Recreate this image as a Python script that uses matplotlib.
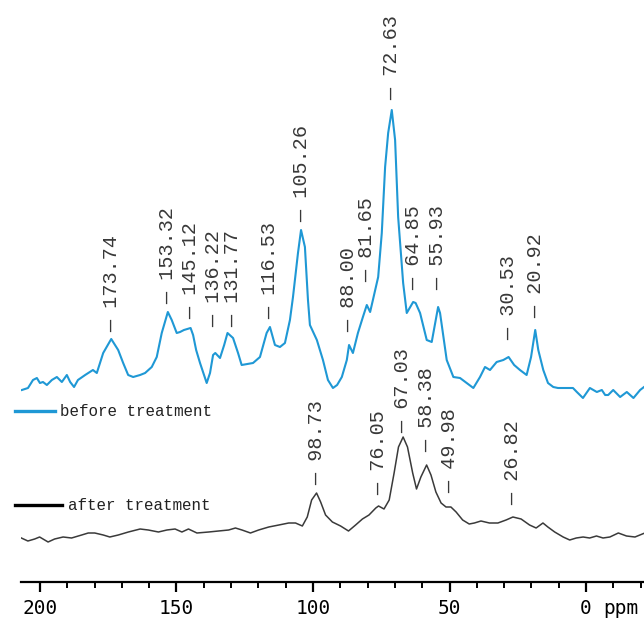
import matplotlib
matplotlib.use("Agg")
import matplotlib.pyplot as plt
from matplotlib.ticker import MultipleLocator
from matplotlib.lines import Line2D

# 13C NMR spectra, before / after treatment
before_ppm = [205.9, 203.7, 201.9, 200.5, 199.4, 198.3, 196.9, 195.1, 193.3, 191.5,
              189.7, 188.5, 187.1, 185.7, 183.1, 180.3, 178.9, 176.6, 173.7, 171.2,
              169.4, 167.6, 165.8, 163.3, 161.5, 159.1, 157.3, 155.5, 153.3, 151.9,
              150.1, 148.9, 147.5, 145.1, 144.2, 143.1, 141.7, 139.3, 138.1, 137.0,
              136.2, 134.5, 133.0, 131.8, 129.8, 128.0, 126.7, 122.6, 120.1, 117.7,
              116.5, 114.7, 112.9, 111.1, 109.3, 108.2, 106.4, 105.3, 103.9, 102.8,
              102.1, 99.6, 97.4, 95.6, 93.8, 92.3, 90.6, 88.8, 88.0, 86.6,
              84.8, 83.0, 81.6, 80.4, 79.4, 77.5, 76.2, 75.0, 73.9, 72.6,
              71.4, 70.3, 68.5, 67.2, 64.9, 64.0, 62.4, 60.0, 58.2, 55.9,
              55.2, 52.8, 50.4, 48.0, 45.6, 43.2, 40.8, 39.0, 37.2, 34.8,
              32.4, 30.5, 28.5, 26.4, 24.0, 22.4, 20.9, 19.8, 18.0, 16.3,
              14.4, 12.7, 9.5, 7.3, 5.9, 3.7, 1.2, -1.3, -3.1, -4.3,
              -5.4, -7.2, -9.7, -12.1, -14.5, -16.9, -18.3]
before_int = [0, 2, 10, 12, 7, 8, 5, 10, 13, 8,
              15, 8, 3, 10, 15, 20, 17, 37, 51, 40,
              27, 15, 13, 15, 17, 23, 33, 57, 78, 70,
              57, 58, 60, 62, 55, 40, 27, 7, 17, 35,
              37, 32, 45, 57, 52, 37, 25, 27, 33, 57,
              63, 45, 43, 47, 70, 93, 137, 160, 143, 90,
              65, 50, 30, 10, 2, 5, 13, 30, 45, 37,
              57, 73, 85, 78, 90, 113, 157, 223, 257, 280,
              250, 173, 107, 77, 88, 87, 77, 50, 48, 83,
              77, 30, 13, 12, 7, 2, 13, 23, 20, 28,
              30, 33, 25, 20, 15, 33, 60, 40, 20, 7,
              3, 2, 2, 2, -2, -8, 2, -2, 0, -5,
              -5, 0, -7, -2, -8, 0, 3]

after_ppm = [206.8, 204.4, 201.9, 200.1, 197.0, 194.6, 191.5, 188.4, 184.7, 182.3,
             179.9, 176.8, 174.4, 171.3, 167.6, 163.3, 160.3, 156.6, 153.5, 150.5,
             148.0, 145.6, 142.5, 138.2, 134.6, 130.9, 128.4, 126.0, 122.9, 119.9,
             116.2, 112.5, 108.9, 106.4, 103.9, 102.1, 100.5, 98.7, 97.2, 95.4,
             92.9, 89.9, 87.0, 84.4, 81.9, 79.5, 77.0, 76.0, 74.0, 72.1,
             70.3, 68.7, 67.0, 65.4, 63.5, 62.1, 60.5, 58.4, 56.8, 55.0,
             53.1, 51.3, 49.5, 47.6, 45.2, 42.8, 40.9, 38.5, 35.4, 32.3,
             29.3, 26.8, 23.8, 20.7, 18.3, 15.8, 14.0, 11.5, 8.4, 6.0,
             3.6, 1.1, -1.3, -3.8, -6.2, -8.7, -11.8, -14.8, -17.9, -21.5]
after_int = [2, -1, 1, 3, -2, 1, 3, 2, 5, 7,
             7, 5, 3, 5, 8, 11, 10, 8, 10, 11,
             8, 11, 7, 8, 9, 10, 12, 10, 7, 10,
             13, 15, 17, 17, 14, 23, 40, 47, 38, 25,
             18, 14, 9, 15, 21, 25, 32, 34, 31, 40,
             67, 93, 103, 93, 67, 51, 63, 75, 65, 48,
             37, 33, 33, 28, 20, 16, 17, 19, 17, 17,
             20, 23, 21, 15, 12, 17, 13, 8, 3, 0,
             2, 3, 2, 4, 2, 3, 7, 4, 3, 7]

before_peaks = [173.74, 153.32, 145.12, 136.22, 131.77, 116.53, 105.26,
                88.00, 81.65, 72.63, 64.85, 55.93, 30.53, 20.92]
before_label_h = [58, 86, 71, 63, 63, 71, 168, 58, 108, 290, 100, 100, 50, 72]
after_peaks = [98.73, 76.05, 67.03, 58.38, 49.98, 26.82]
after_label_h = [55, 45, 107, 88, 47, 35]

# vertical stacking of the two traces
before_offset = 192
after_offset = 42

# crowded labels get spread sideways a little (points), like the NMR software does
label_nudge = {136.22: -1.5, 131.77: 3.6}

blue = "#1f98d5"
dark = "#3a3a3a"
lab_col = "#383838"

fig = plt.figure(figsize=(6.44, 6.2), dpi=100)
ax = fig.add_axes([20.5/644, 38/620, 623.5/644, 582/620])
ax.set_xlim(207.1, -21.2)
ax.set_ylim(0, 582)

# the blue trace was pasted in with a slightly different ppm scale
ax2 = ax.twiny()
ax2.set_xlim(206.4, -18.3)
ax2.axis("off")

ax2.plot(before_ppm, [v + before_offset for v in before_int], color=blue, lw=1.5)
ax.plot(after_ppm, [v + after_offset for v in after_int], color=dark, lw=1.1)


def peak_labels(axis, peaks, heights, offset):
    for p, h in zip(peaks, heights):
        axis.annotate("— %.2f" % p, xy=(p, h + offset), xytext=(label_nudge.get(p, 0), 0),
                      textcoords="offset points", rotation=90, ha="center", va="bottom",
                      fontsize=14.5, family="Liberation Mono", color=lab_col)


peak_labels(ax2, before_peaks, before_label_h, before_offset)
peak_labels(ax, after_peaks, after_label_h, after_offset)

# axis: only the bottom ppm scale
for s in ["left", "right", "top"]:
    ax.spines[s].set_visible(False)
ax.spines["bottom"].set_linewidth(1.6)
ax.set_yticks([])
ax.xaxis.set_major_locator(MultipleLocator(50))
ax.xaxis.set_minor_locator(MultipleLocator(10))
ax.tick_params(axis="x", which="major", direction="out", length=7, width=1.6, pad=5,
               labelsize=14)
ax.tick_params(axis="x", which="minor", direction="out", length=4, width=1.4)
for t in ax.get_xticklabels():
    t.set_family("DejaVu Sans Mono")
ax.annotate("ppm", xy=(0, 0), xycoords=("data", "axes fraction"), xytext=(12, -12),
            textcoords="offset points", ha="left", va="top", fontsize=14,
            family="DejaVu Sans Mono")

# hand-drawn legend like the original
fig.add_artist(Line2D([15/644, 55/644], [1 - 411/620]*2, color=blue, lw=2.4))
fig.text(60/644, 1 - 411/620, "before treatment", va="center", ha="left",
         fontsize=11.4, family="Liberation Mono", color="#222222")
fig.add_artist(Line2D([15/644, 62/644], [1 - 505/620]*2, color="black", lw=2.4))
fig.text(68/644, 1 - 505/620, "after treatment", va="center", ha="left",
         fontsize=11.4, family="Liberation Mono", color="#222222")

fig.savefig("out.png", dpi=100)
